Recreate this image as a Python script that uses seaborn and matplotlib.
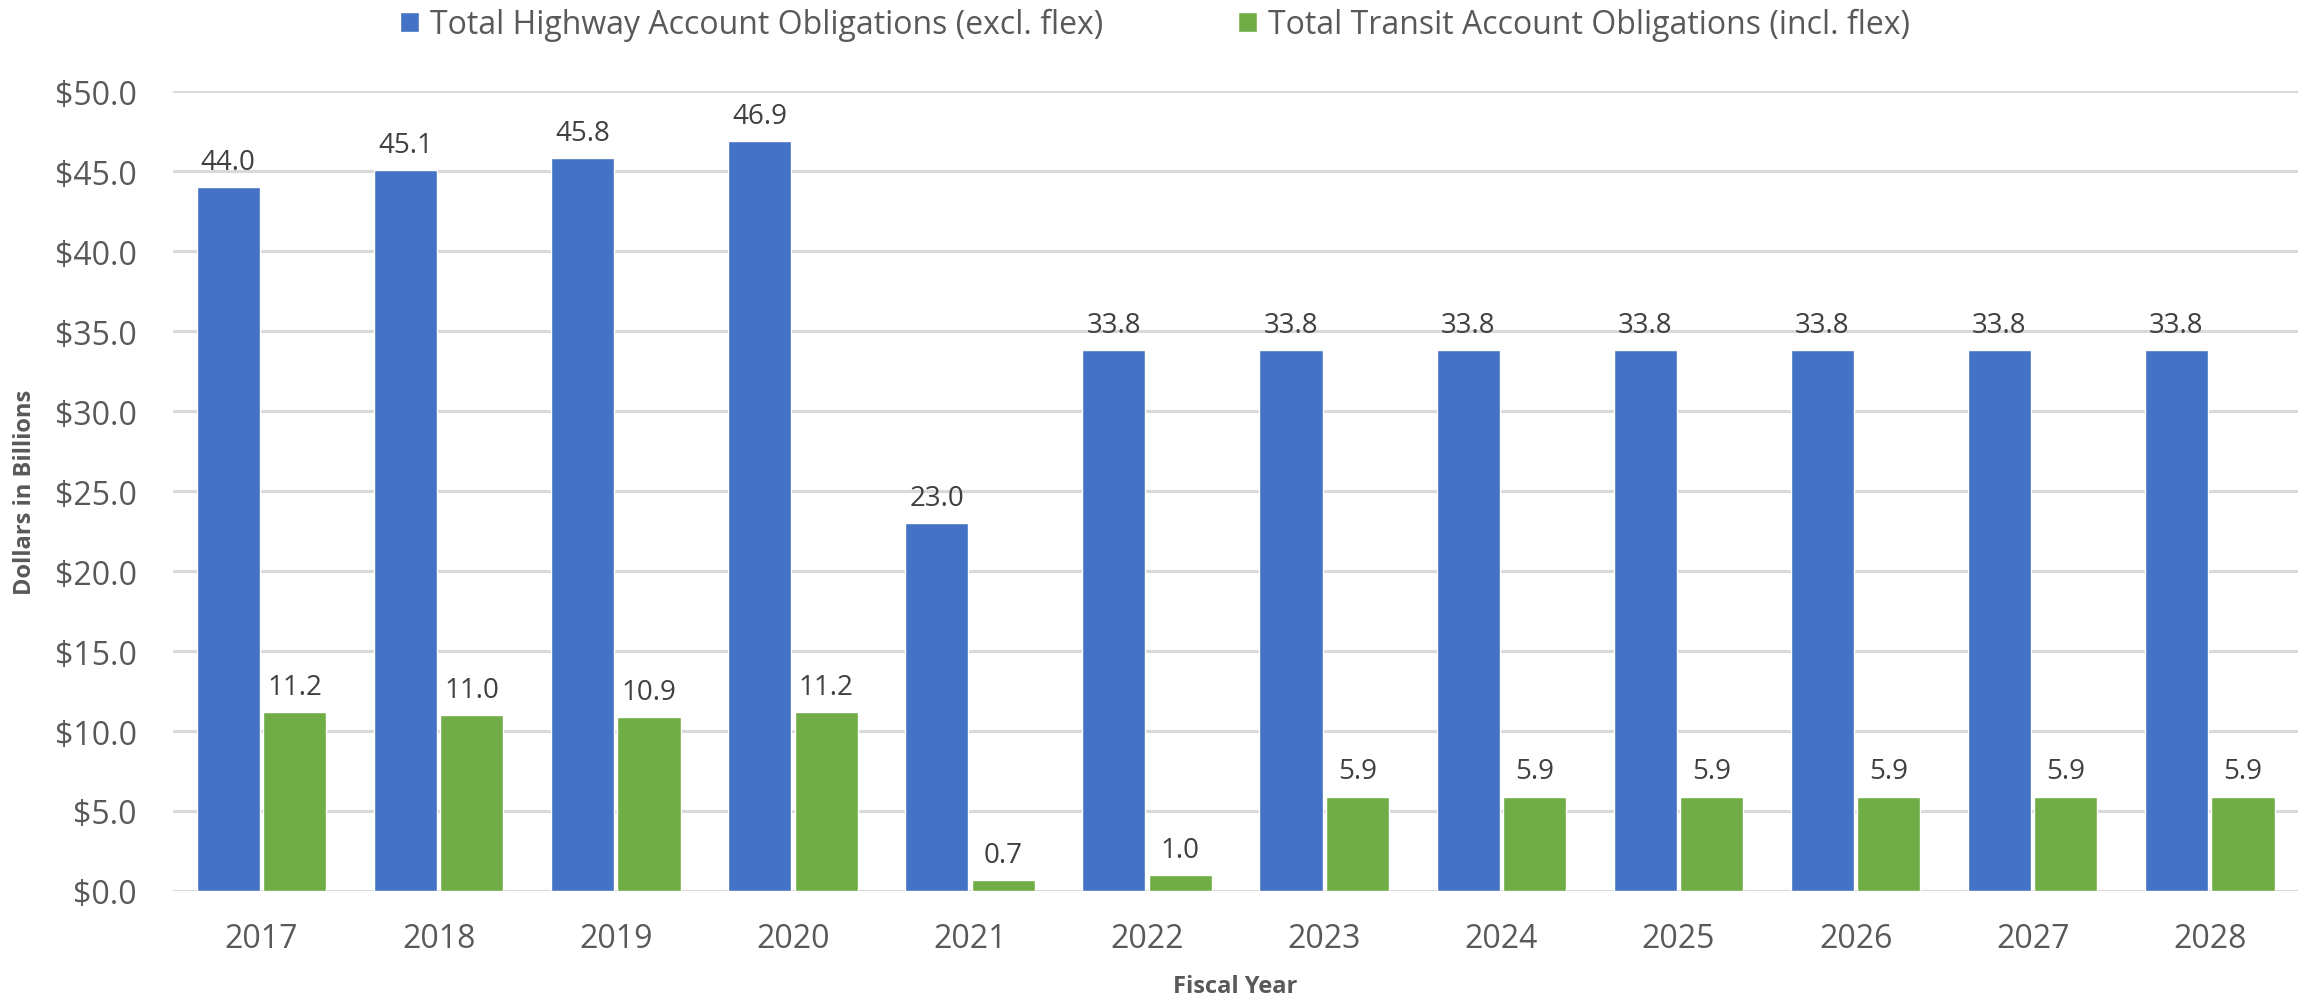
import pandas as pd
import matplotlib
matplotlib.use("Agg")
import matplotlib.pyplot as plt
import seaborn as sns

# values (billions of dollars)
years = ['2017', '2018', '2019', '2020', '2021', '2022',
         '2023', '2024', '2025', '2026', '2027', '2028']
highway = [44.0, 45.1, 45.8, 46.9, 23.0, 33.8, 33.8, 33.8, 33.8, 33.8, 33.8, 33.8]
transit = [11.2, 11.0, 10.9, 11.2, 0.7, 1.0, 5.9, 5.9, 5.9, 5.9, 5.9, 5.9]
series_names = ['Total Highway Account Obligations (excl. flex)',
                'Total Transit Account Obligations (incl. flex)']
colors = ['#4472C4', '#70AD47']

# long table for seaborn
df = pd.concat([
    pd.DataFrame({'Fiscal Year': years, 'Value': highway, 'Series': series_names[0]}),
    pd.DataFrame({'Fiscal Year': years, 'Value': transit, 'Series': series_names[1]}),
])

sns.set_theme(style='white')
plt.rcParams['font.family'] = ['Open Sans', 'DejaVu Sans']
text_col = '#595959'

fig = plt.figure(figsize=(23.03, 10.03), dpi=100)
ax = fig.add_axes([0.0751, 0.1107, 0.9229, 0.7973])

sns.barplot(data=df, x='Fiscal Year', y='Value', hue='Series', palette=colors,
            width=0.75, gap=0.05, edgecolor='white', linewidth=1.0,
            saturation=1, ax=ax)

ax.set_ylim(0, 50)
ax.set_xlim(-0.5, 11.5)
ax.set_yticks(range(0, 51, 5))
ax.set_yticklabels([f'${v:.1f}' for v in range(0, 51, 5)])
ax.yaxis.grid(True, color='#D9D9D9', linewidth=2.2)
ax.set_axisbelow(True)
for s in ax.spines.values():
    s.set_visible(False)
ax.tick_params(axis='both', length=0, labelcolor=text_col)
ax.tick_params(axis='y', pad=26, labelsize=23)
ax.tick_params(axis='x', pad=22, labelsize=23)

# value labels on top of bars
for cont in ax.containers:
    ax.bar_label(cont, fmt='%.1f', padding=8, fontsize=20, color='#404040')

ax.set_xlabel('Fiscal Year', fontsize=17, fontweight='bold', color=text_col)
ax.set_ylabel('Dollars in Billions', fontsize=17, fontweight='bold', color=text_col)
ax.xaxis.set_label_coords(0.5, -0.104)
ax.yaxis.set_label_coords(-0.064, 0.5)

ax.legend(loc='upper center', bbox_to_anchor=(0.462, 1.14), ncol=2, frameon=False,
          fontsize=23, labelcolor=text_col, handlelength=0.6, handleheight=0.6,
          handletextpad=0.35, columnspacing=4.2)

fig.savefig('out.png', dpi=100)
